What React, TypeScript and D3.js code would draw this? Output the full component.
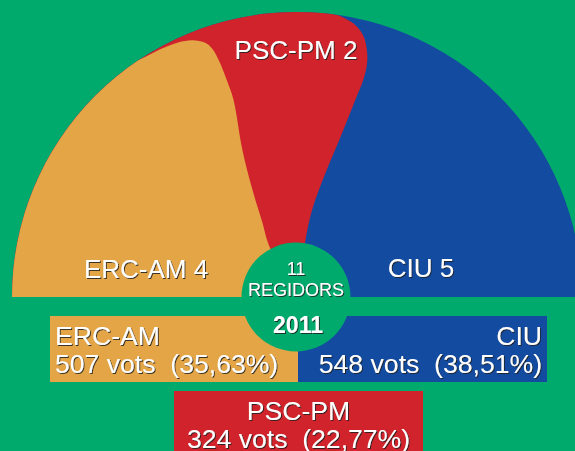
import { useEffect, useRef } from 'react'
import * as d3 from 'd3'

// --- DATA ---
const parties = ['ERC-AM', 'PSC-PM', 'CIU']
const seats = [4, 2, 5]
const votes = [507, 324, 548]
const percents = [35.63, 22.77, 38.51]
const totalSeats = 11
const seatsLabel = 'REGIDORS'
const year = 2011

// --- STYLE ---
const partyColors = ['#e3a545', '#d0232b', '#134ba0']
const background = '#00aa6c'
const FONT = '"Liberation Sans", Arial, sans-serif'

// shape of the boundary between party i and i+1: [radius fraction, angle offset (deg)]
const boundaryBends: [number, number][][] = [
  [
    [0, 5], [0.204, 4], [0.288, 0.4], [0.409, -2], [0.552, -4.2], [0.727, -6.7],
    [0.8, -6.6], [0.87, -6.3], [0.92, -5.7], [0.948, -4.7], [0.973, -2.4],
    [0.986, 0.5], [0.993, 4.6], [1.0, 9], [1.03, 13], [1.1, 16],
  ],
  [
    [0, 0], [0.205, -0.3], [0.312, -1.7], [0.448, -4.8], [0.597, -7.2], [0.722, -8.3],
    [0.797, -8.8], [0.857, -8.5], [0.901, -7.6], [0.943, -6.2], [0.976, -3.9],
    [0.996, -0.9], [1.005, 1.4], [1.05, 4], [1.1, 6],
  ],
]

const WIDTH = 575
const HEIGHT = 451
const cx = 297
const cy = 297
const R = 285
const innerR = 54.5

// seat label anchors (centre x, baseline y)
const seatLabelPos = [
  { x: 146, y: 278 },
  { x: 296, y: 59 },
  { x: 421, y: 277 },
]

// vote boxes
const boxes = [
  { x: 50, y: 316, w: 248, h: 66, tx: 55, anchor: 'start' },
  { x: 174, y: 391, w: 249, h: 62, tx: 298.5, anchor: 'middle' },
  { x: 298, y: 316, w: 249, h: 66, tx: 542, anchor: 'end' },
]

const fmtPct = (v: number) => d3.format('.2f')(v).replace('.', ',') + '%'

export default function App() {
  const svgRef = useRef<SVGSVGElement | null>(null)

  useEffect(() => {
    if (!svgRef.current) return
    const svg = d3.select<SVGSVGElement, unknown>(svgRef.current)
    svg.selectAll('*').remove()

    const defs = svg.append('defs')
    const filter = defs.append('filter').attr('id', 'shadow')
      .attr('x', '-10%').attr('y', '-20%').attr('width', '130%').attr('height', '150%')
    filter.append('feDropShadow')
      .attr('dx', 1).attr('dy', 1).attr('stdDeviation', 0.4)
      .attr('flood-color', '#222').attr('flood-opacity', 0.85)

    const semi = d3.arc<any>()({
      innerRadius: 0,
      outerRadius: R,
      startAngle: -Math.PI / 2,
      endAngle: Math.PI / 2,
    } as any) as string

    defs.append('clipPath').attr('id', 'semi')
      .append('path')
      .attr('transform', `translate(${cx},${cy})`)
      .attr('d', semi)

    svg.append('rect').attr('width', WIDTH).attr('height', HEIGHT).attr('fill', background)

    // --- SEAT REGIONS ---
    const arcs = d3.pie<number>().sort(null)
      .startAngle(-Math.PI / 2).endAngle(Math.PI / 2)(seats)

    const line = d3.line<[number, number]>().curve(d3.curveCatmullRom.alpha(0.5))

    const regionPath = (i: number) => {
      if (i >= parties.length - 1) {
        return `M${cx - R - 5},${cy}L${cx - R - 5},${cy - R - 5}L${cx + R + 5},${cy - R - 5}L${cx + R + 5},${cy}Z`
      }
      const a = arcs[i].endAngle
      const pts = boundaryBends[i].map(([f, off]) => {
        const [x, y] = d3.pointRadial(a - (off * Math.PI) / 180, f * R)
        return [cx + x, cy + y] as [number, number]
      })
      return `${line(pts)}L${cx - 2 * R},${cy - 2 * R}L${cx - 2 * R},${cy + 20}L${cx},${cy + 20}Z`
    }

    const regions = svg.append('g').attr('clip-path', 'url(#semi)')
    d3.range(parties.length - 1, -1, -1).forEach((i) => {
      regions.append('path').attr('d', regionPath(i)).attr('fill', partyColors[i])
    })

    // --- SEAT LABELS ---
    parties.forEach((p, i) => {
      svg.append('text')
        .attr('x', seatLabelPos[i].x)
        .attr('y', seatLabelPos[i].y)
        .attr('text-anchor', 'middle')
        .attr('font-family', FONT)
        .attr('font-size', 26)
        .attr('fill', '#fff')
        .attr('filter', 'url(#shadow)')
        .text(`${p} ${seats[i]}`)
    })

    // --- VOTE BOXES ---
    parties.forEach((p, i) => {
      const b = boxes[i]
      svg.append('rect')
        .attr('x', b.x).attr('y', b.y).attr('width', b.w).attr('height', b.h)
        .attr('fill', partyColors[i])
      const t = svg.append('text')
        .attr('text-anchor', b.anchor)
        .attr('font-family', FONT)
        .attr('font-size', 26.6)
        .attr('fill', '#fff')
        .attr('filter', 'url(#shadow)')
        .style('white-space', 'pre')
      t.append('tspan').attr('x', b.tx).attr('y', b.y + 29).text(p)
      t.append('tspan').attr('x', b.tx).attr('y', b.y + 57)
        .text(`${votes[i]} vots  (${fmtPct(percents[i])})`)
    })

    // --- CENTRE ---
    svg.append('circle').attr('cx', cx - 1).attr('cy', cy).attr('r', innerR).attr('fill', background)

    const centre = svg.append('g')
      .attr('font-family', FONT)
      .attr('fill', '#fff')
      .attr('text-anchor', 'middle')
      .attr('filter', 'url(#shadow)')
    centre.append('text').attr('x', cx - 1).attr('y', 275).attr('font-size', 18).text(totalSeats)
    centre.append('text').attr('x', cx - 1).attr('y', 296).attr('font-size', 18).text(seatsLabel)
    centre.append('text').attr('x', cx + 1).attr('y', 333).attr('font-size', 23)
      .attr('font-weight', 'bold').text(year)
  }, [])

  return (
    <svg
      ref={svgRef}
      width={WIDTH}
      height={HEIGHT}
      style={{ position: 'absolute', left: 0, top: 0, display: 'block' }}
    />
  )
}
